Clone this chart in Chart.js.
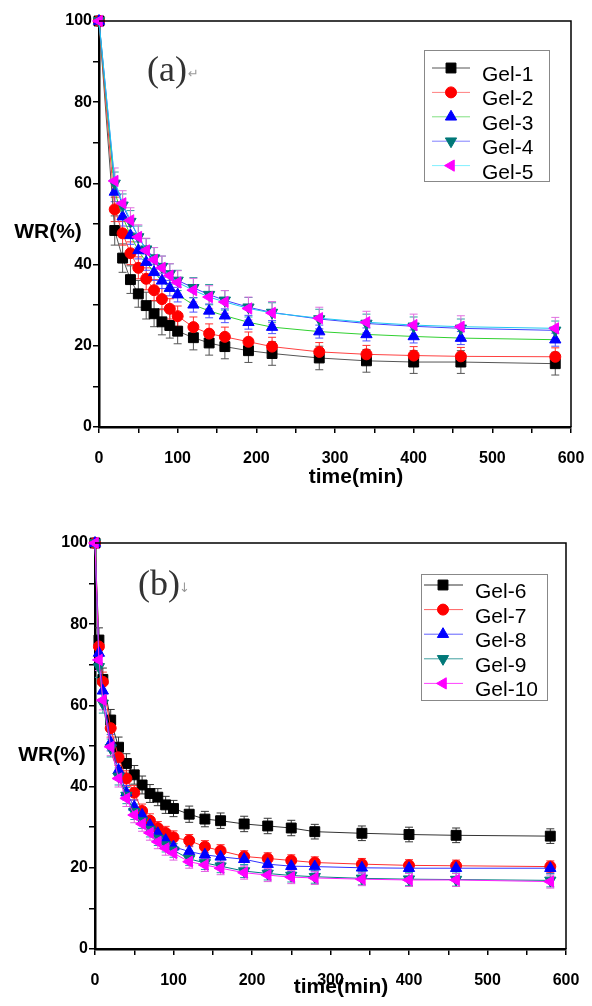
<!DOCTYPE html>
<html>
<head>
<meta charset="utf-8">
<script src="https://cdn.jsdelivr.net/npm/chart.js@4.4.0/dist/chart.umd.min.js"></script>
<style>
  body { margin: 0; background: #fff; }
  canvas { position: absolute; left: 0; }
  #chartA { top: 0; }
  #chartB { top: 505px; }
</style>
</head>
<body>
<canvas id="chartA" width="592" height="500"></canvas>
<canvas id="chartB" width="592" height="501"></canvas>
<script>
// panel (a) - time in min, WR in %
const timeA = [0, 20, 30, 40, 50, 60, 70, 80, 90, 100, 120, 140, 160, 190, 220, 280, 340, 400, 460, 580];
const namesA = ["Gel-1", "Gel-2", "Gel-3", "Gel-4", "Gel-5"];
const gel1 = [100, 48.4, 41.6, 36.3, 32.8, 29.9, 27.9, 25.9, 25.0, 23.6, 22.0, 20.7, 19.8, 18.8, 18.1, 17.0, 16.3, 16.0, 16.0, 15.6];
const gel2 = [100, 53.6, 47.7, 42.8, 39.2, 36.5, 33.7, 31.5, 29.1, 27.3, 24.6, 23.0, 22.2, 21.0, 19.8, 18.5, 17.9, 17.6, 17.4, 17.3];
const gel3 = [100, 57.9, 51.8, 47.2, 43.5, 40.6, 38.1, 36.0, 34.2, 32.6, 30.1, 28.6, 27.4, 25.8, 24.6, 23.5, 22.8, 22.3, 21.9, 21.5];
const gel4 = [100, 60.0, 54.6, 50.6, 46.8, 43.8, 41.6, 39.5, 37.7, 36.1, 34.3, 32.6, 31.2, 29.5, 28.2, 26.6, 25.5, 24.8, 24.3, 23.8];
const gel5 = [100, 60.6, 55.1, 50.9, 46.8, 43.5, 41.2, 39.2, 37.3, 35.6, 33.7, 32.0, 30.8, 29.2, 28.1, 26.8, 25.8, 25.1, 24.7, 24.3];
const err1 = [0, 3.6, 3.5, 3.4, 3.3, 3.3, 3.2, 3.2, 3.1, 3.1, 3.0, 3.0, 3.0, 2.9, 2.9, 2.9, 2.8, 2.8, 2.8, 2.8];
const err2 = [0, 3.0, 2.9, 2.8, 2.7, 2.7, 2.6, 2.6, 2.5, 2.5, 2.5, 2.4, 2.4, 2.4, 2.3, 2.3, 2.2, 2.2, 2.2, 2.2];
const err3 = [0, 2.4, 2.3, 2.2, 2.1, 2.0, 2.0, 1.9, 1.9, 1.8, 1.8, 1.7, 1.7, 1.7, 1.6, 1.6, 1.6, 1.6, 1.6, 1.6];
const err4 = [0, 2.8, 2.8, 2.7, 2.7, 2.6, 2.6, 2.6, 2.5, 2.5, 2.5, 2.5, 2.4, 2.4, 2.4, 2.4, 2.3, 2.3, 2.3, 2.3];
const err5 = [0, 3.2, 3.1, 3.1, 3.0, 3.0, 3.0, 2.9, 2.9, 2.9, 2.9, 2.8, 2.8, 2.8, 2.8, 2.7, 2.7, 2.7, 2.7, 2.7];

// panel (b)
const timeB = [0, 5, 10, 20, 30, 40, 50, 60, 70, 80, 90, 100, 120, 140, 160, 190, 220, 250, 280, 340, 400, 460, 580];
const namesB = ["Gel-6", "Gel-7", "Gel-8", "Gel-9", "Gel-10"];
const gel6 = [100, 76.1, 66.4, 56.4, 49.7, 45.7, 42.9, 40.4, 38.3, 37.4, 35.5, 34.6, 33.2, 32.0, 31.6, 30.8, 30.3, 29.8, 28.9, 28.5, 28.2, 28.0, 27.8];
const gel7 = [100, 74.5, 65.8, 54.4, 47.2, 42.0, 38.5, 34.0, 31.6, 29.8, 28.6, 27.5, 26.7, 25.2, 24.2, 22.8, 22.3, 21.8, 21.3, 20.9, 20.6, 20.5, 20.3];
const gel8 = [100, 72.9, 63.6, 50.8, 44.0, 38.5, 35.0, 33.0, 30.5, 28.5, 26.8, 25.2, 24.0, 23.2, 22.7, 22.1, 20.9, 20.4, 20.3, 20.0, 19.9, 19.9, 19.9];
const gel9 = [100, 69.5, 60.5, 49.5, 42.5, 37.8, 33.8, 31.5, 29.4, 27.2, 25.6, 24.3, 22.2, 21.2, 20.4, 19.2, 18.6, 18.1, 17.8, 17.4, 17.2, 17.1, 16.9];
const gel10 = [100, 71.2, 61.3, 49.8, 42.0, 37.1, 33.0, 30.8, 28.6, 26.4, 24.8, 23.6, 21.5, 20.7, 19.9, 18.8, 18.2, 17.7, 17.5, 17.2, 17.0, 17.0, 16.6];
const err6 = [0, 3.0, 2.8, 2.6, 2.5, 2.4, 2.3, 2.2, 2.2, 2.1, 2.1, 2.0, 2.0, 1.9, 1.9, 1.9, 1.9, 1.9, 1.8, 1.8, 1.8, 1.8, 1.8];
const err7 = [0, 2.6, 2.4, 2.2, 2.0, 1.9, 1.8, 1.7, 1.7, 1.6, 1.6, 1.6, 1.5, 1.5, 1.5, 1.4, 1.4, 1.4, 1.4, 1.4, 1.4, 1.4, 1.4];
const err8 = [0, 2.4, 2.2, 2.0, 1.9, 1.8, 1.7, 1.6, 1.6, 1.5, 1.5, 1.5, 1.4, 1.4, 1.4, 1.4, 1.3, 1.3, 1.3, 1.3, 1.3, 1.3, 1.3];
const err9 = [0, 2.6, 2.4, 2.2, 2.1, 2.0, 1.9, 1.8, 1.8, 1.7, 1.7, 1.7, 1.6, 1.6, 1.6, 1.6, 1.6, 1.6, 1.6, 1.6, 1.6, 1.6, 1.6];
const err10 = [0, 2.6, 2.4, 2.2, 2.1, 2.0, 1.9, 1.8, 1.8, 1.7, 1.7, 1.7, 1.6, 1.6, 1.6, 1.6, 1.6, 1.6, 1.6, 1.6, 1.6, 1.6, 1.6];

const styleA = [
  { line: "#555555", legendLine: "#555555", fill: "#000000", err: "#555555", shape: "rect", rot: 0, r: 7 },
  { line: "#ff4040", legendLine: "#ff8080", fill: "#ff0000", err: "#ff3030", shape: "circle", rot: 0, r: 5.5 },
  { line: "#30d030", legendLine: "#80e080", fill: "#0000ff", err: "#5050ff", shape: "triangle", rot: 0, r: 6.5 },
  { line: "#4040ff", legendLine: "#8080ff", fill: "#007878", err: "#30a0a0", shape: "triangle", rot: 180, r: 6.5 },
  { line: "#20c8f0", legendLine: "#80f0ff", fill: "#ff00ff", err: "#e070e0", shape: "triangle", rot: 270, r: 6.5 }
];
const styleB = [
  { line: "#333333", legendLine: "#333333", fill: "#000000", err: "#333333", shape: "rect", rot: 0, r: 7 },
  { line: "#ff3030", legendLine: "#ff6060", fill: "#ff0000", err: "#ff3030", shape: "circle", rot: 0, r: 5.5 },
  { line: "#3030ff", legendLine: "#6060ff", fill: "#0000ff", err: "#4040ff", shape: "triangle", rot: 0, r: 6.5 },
  { line: "#008080", legendLine: "#40a0a0", fill: "#007878", err: "#20a0a0", shape: "triangle", rot: 180, r: 6.5 },
  { line: "#ff20ff", legendLine: "#ff40ff", fill: "#ff00ff", err: "#e060e0", shape: "triangle", rot: 270, r: 6.5 }
];

function makeSets(times, series, errs, names, styles) {
  return series.map((vals, i) => ({
    label: names[i],
    data: vals.map((v, k) => ({ x: times[k], y: v })),
    errors: errs[i],
    errColor: styles[i].err,
    legendLine: styles[i].legendLine,
    borderColor: styles[i].line,
    borderWidth: 1,
    backgroundColor: styles[i].fill,
    pointBackgroundColor: styles[i].fill,
    pointBorderColor: styles[i].fill,
    pointBorderWidth: 1,
    pointStyle: styles[i].shape,
    pointRotation: styles[i].rot,
    pointRadius: styles[i].r,
    tension: 0,
    clip: false,
    order: series.length - i
  }));
}

const FONT = "'Liberation Sans', Arial, sans-serif";

const decor = {
  id: "decor",
  beforeDatasetsDraw(chart) {
    const ctx = chart.ctx, xs = chart.scales.x, ys = chart.scales.y;
    chart.data.datasets.forEach((ds) => {
      ctx.save();
      ctx.strokeStyle = ds.errColor;
      ctx.lineWidth = 1;
      ds.data.forEach((p, i) => {
        const e = ds.errors[i];
        if (!e) return;
        const x = xs.getPixelForValue(p.x);
        const y1 = ys.getPixelForValue(p.y + e);
        const y2 = ys.getPixelForValue(p.y - e);
        ctx.beginPath();
        ctx.moveTo(x, y1); ctx.lineTo(x, y2);
        ctx.moveTo(x - 4, y1); ctx.lineTo(x + 4, y1);
        ctx.moveTo(x - 4, y2); ctx.lineTo(x + 4, y2);
        ctx.stroke();
      });
      ctx.restore();
    });
  },
  afterDraw(chart, args, o) {
    const ctx = chart.ctx, a = chart.chartArea;
    ctx.save();
    // top and right frame
    ctx.strokeStyle = "#000";
    ctx.lineWidth = 1.5;
    ctx.beginPath();
    ctx.moveTo(a.left, a.top); ctx.lineTo(a.right, a.top); ctx.lineTo(a.right, a.bottom);
    ctx.stroke();

    // axis titles
    ctx.fillStyle = "#000";
    ctx.font = "bold 21px " + FONT;
    ctx.textAlign = "center";
    ctx.textBaseline = "middle";
    ctx.fillText("WR(%)", o.yTitle[0], o.yTitle[1]);
    ctx.fillText("time(min)", o.xTitle[0], o.xTitle[1]);

    // panel tag
    ctx.textAlign = "left";
    ctx.fillStyle = "#333";
    ctx.font = "36px 'Liberation Serif', serif";
    ctx.fillText(o.tag, o.tagPos[0], o.tagPos[1]);
    ctx.fillStyle = "#999";
    ctx.font = "13px 'DejaVu Sans', sans-serif";
    ctx.fillText(o.mark, o.tagPos[0] + 41, o.tagPos[1] + 3);

    // legend box
    const L = o.legend;
    ctx.fillStyle = "#fff";
    ctx.fillRect(L.x, L.y, L.w, L.h);
    ctx.strokeStyle = "#888";
    ctx.lineWidth = 1;
    ctx.strokeRect(L.x + 0.5, L.y + 0.5, L.w, L.h);
    chart.data.datasets.forEach((ds, i) => {
      const y = L.row0 + i * L.step;
      ctx.strokeStyle = ds.legendLine;
      ctx.lineWidth = 1;
      ctx.beginPath();
      ctx.moveTo(L.lineX[0], y); ctx.lineTo(L.lineX[1], y);
      ctx.stroke();
      ctx.fillStyle = ds.pointBackgroundColor;
      ctx.strokeStyle = ds.pointBorderColor;
      Chart.helpers.drawPoint(ctx, {
        pointStyle: ds.pointStyle, rotation: ds.pointRotation,
        radius: ds.pointRadius, borderWidth: 1
      }, L.markX, y);
      ctx.fillStyle = "#000";
      ctx.font = "21px " + FONT;
      ctx.textBaseline = "alphabetic";
      ctx.textAlign = "left";
      ctx.fillText(ds.label, L.textX, y + 13);
    });
    ctx.restore();
  }
};

function makeChart(id, sets, area, deco) {
  const tickFont = { family: FONT, size: 16, weight: "bold" };
  return new Chart(document.getElementById(id), {
    type: "line",
    data: { datasets: sets },
    plugins: [decor],
    options: {
      responsive: false,
      animation: false,
      devicePixelRatio: 1,
      layout: { autoPadding: false, padding: { left: 0, top: area.top, right: area.right, bottom: 0 } },
      plugins: { legend: { display: false }, tooltip: { enabled: false }, decor: deco },
      scales: {
        x: {
          type: "linear", min: 0, max: 600,
          afterFit: (s) => { s.height = area.xh; s.paddingLeft = 0; s.paddingRight = 0; },
          ticks: {
            stepSize: 50, autoSkip: false, maxRotation: 0, padding: 16,
            color: "#000", font: tickFont,
            callback: (v) => (v % 100 === 0 ? String(v) : "")
          },
          grid: { drawOnChartArea: false, drawTicks: true, tickLength: 6, color: "#000", lineWidth: 1.5 },
          border: { display: true, color: "#000", width: 2.5 }
        },
        y: {
          min: 0, max: 100,
          afterFit: (s) => { s.width = area.yw; s.paddingTop = 0; s.paddingBottom = 0; },
          ticks: {
            stepSize: 10, autoSkip: false, padding: 1,
            color: "#000", font: tickFont,
            callback: (v) => (v % 20 === 0 ? String(v) : "")
          },
          grid: { drawOnChartArea: false, drawTicks: true, tickLength: 6, color: "#000", lineWidth: 1.5 },
          border: { display: true, color: "#000", width: 2.5 }
        }
      }
    }
  });
}

makeChart("chartA",
  makeSets(timeA, [gel1, gel2, gel3, gel4, gel5], [err1, err2, err3, err4, err5], namesA, styleA),
  { top: 21, right: 21, xh: 73, yw: 99 },
  {
    yTitle: [48, 232], xTitle: [356, 477], tag: "(a)", mark: "\u21B5", tagPos: [147, 72],
    legend: { x: 424, y: 50, w: 125, h: 131, row0: 68, step: 24.4, lineX: [432, 470], markX: 451, textX: 482 }
  });

makeChart("chartB",
  makeSets(timeB, [gel6, gel7, gel8, gel9, gel10], [err6, err7, err8, err9, err10], namesB, styleB),
  { top: 38, right: 26, xh: 57, yw: 95 },
  {
    yTitle: [52, 250], xTitle: [341, 482], tag: "(b)", mark: "\u2193", tagPos: [138, 81],
    legend: { x: 421, y: 69, w: 126, h: 126, row0: 80, step: 24.6, lineX: [424, 463], markX: 443, textX: 475 }
  });
</script>
</body>
</html>
